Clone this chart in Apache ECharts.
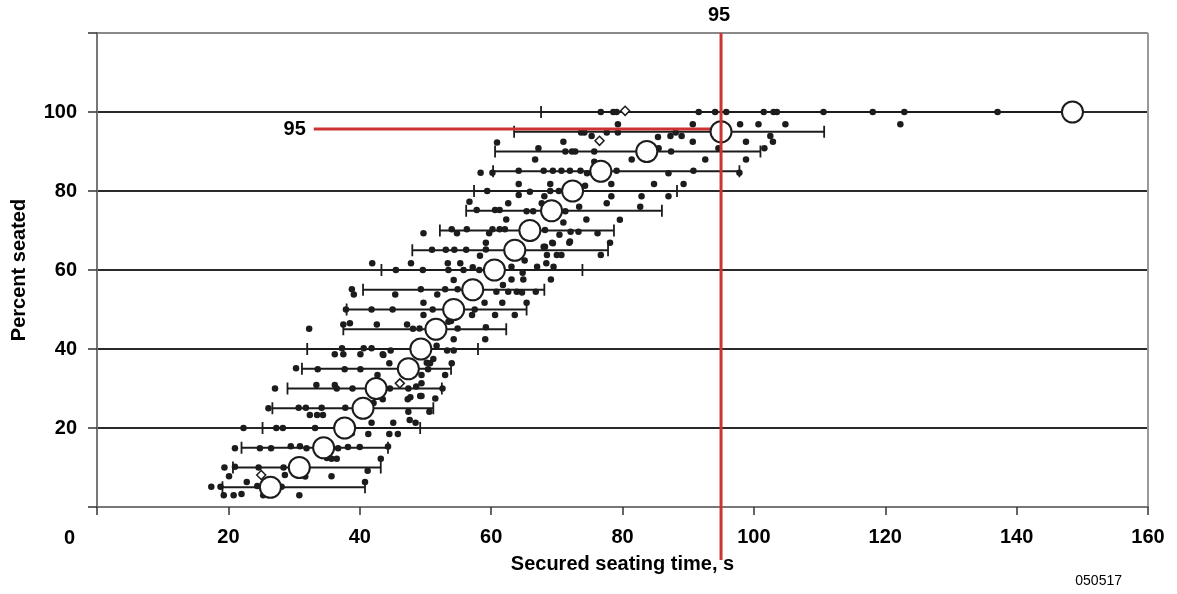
<!DOCTYPE html>
<html lang="en">
<head>
<meta charset="UTF-8">
<title>Secured seating time</title>
<script src="https://cdn.jsdelivr.net/npm/echarts@6/dist/echarts.min.js"></script>
<style>
  html, body { margin: 0; padding: 0; background: #fff; }
  #main { width: 1177px; height: 594px; }
</style>
</head>
<body>
<div id="main"></div>
<script>
// percent seated levels and the summary per level (seconds)
var levels = [5, 10, 15, 20, 25, 30, 35, 40, 45, 50, 55, 60, 65, 70, 75, 80, 85, 90, 95, 100];
var means = [26.4, 30.8, 34.5, 37.7, 40.5, 42.5, 47.4, 49.3, 51.6, 54.3, 57.2, 60.5, 63.6, 65.9, 69.2, 72.4, 76.7, 83.7, 95.0, 148.5];
var barLow = [19.1, 20.7, 22.0, 25.2, 26.7, 29.0, 31.2, 32.0, 37.5, 38.0, 40.5, 43.3, 48.0, 52.2, 56.2, 57.4, 60.3, 60.6, 63.5, 67.6];
var barHigh = [40.8, 43.2, 44.3, 49.2, 51.2, 52.5, 53.9, 58.0, 62.3, 65.4, 68.1, 73.9, 77.8, 78.7, 86.0, 88.3, 97.8, 101.0, 110.7, 148.5];

// individual trials [time, percent]
var trials = [
  [17.4,5.1],[18.8,5.1],[19.3,3.0],[20.8,3.0],[22.0,3.3],[22.8,6.3],[24.4,5.3],[25.3,3.0],[28.1,5.1],[30.8,3.0],[40.8,6.3],
  [19.4,10.0],[20.1,7.8],[21.0,10.2],[24.6,10.0],[28.4,10.0],[28.6,8.1],[31.7,7.7],[35.7,7.8],[41.2,9.2],[43.2,12.2],
  [21.0,14.9],[24.8,14.9],[26.5,14.9],[29.5,15.4],[30.9,15.4],[31.9,14.9],[35.0,12.4],[35.7,12.2],[36.5,12.2],[36.7,14.9],[38.2,15.2],[40.0,15.2],[44.3,15.3],
  [22.3,20.0],[27.3,20.0],[28.3,20.0],[33.2,20.0],[32.4,23.3],[33.5,23.3],[34.4,23.3],[38.8,18.7],[41.3,18.5],[41.8,21.3],[44.5,18.5],[45.1,21.3],[45.8,18.5],[47.6,22.0],[48.5,21.3],
  [26.1,25.0],[30.7,25.1],[31.8,25.1],[34.2,25.1],[37.8,25.1],[42.1,26.3],[43.5,27.3],[47.3,27.3],[47.4,24.1],[49.2,28.1],[50.6,24.1],[51.5,27.5],
  [27.1,30.0],[33.4,30.9],[36.2,30.9],[36.5,30.0],[38.9,30.0],[44.6,30.0],[47.4,30.0],[48.6,30.5],[49.4,31.3],[47.7,27.8],[49.4,28.1],[52.6,30.0],
  [30.3,35.1],[33.6,34.9],[37.7,34.9],[40.1,34.9],[42.7,33.4],[44.5,36.4],[49.4,33.4],[50.4,34.9],[50.7,36.4],[53.0,33.4],[54.0,36.4],
  [37.3,40.2],[36.2,38.7],[37.5,38.7],[40.1,38.7],[40.6,40.2],[41.8,40.2],[43.5,38.7],[44.7,39.6],[51.7,40.8],[51.2,37.5],[53.3,39.6],[54.3,39.6],[43.6,38.5],[50.2,36.5],
  [32.3,45.1],[37.5,46.2],[38.5,46.5],[42.6,46.2],[47.2,46.2],[48.1,45.1],[49.1,45.2],[53.5,46.9],[54.3,42.5],[53.9,47.1],[54.9,45.2],[59.2,45.5],[59.1,42.5],
  [37.9,50.0],[41.8,50.0],[45.0,50.0],[49.7,51.7],[49.7,48.6],[51.1,50.0],[57.1,48.6],[57.5,50.0],[59.0,51.7],[60.6,48.6],[61.7,51.7],[63.6,48.6],[65.4,51.7],
  [38.8,55.1],[39.1,53.8],[45.4,53.8],[49.3,55.1],[51.8,53.8],[53.0,55.1],[54.3,57.5],[54.9,55.1],[60.8,54.5],[61.8,56.2],[62.6,54.5],[63.9,54.5],[64.7,54.3],[63.1,57.6],[64.9,57.6],[66.8,54.5],
  [41.9,61.7],[45.5,60.0],[47.8,61.7],[49.6,60.0],[53.4,61.7],[53.5,60.0],[55.3,61.7],[55.8,60.0],[57.2,60.7],[58.2,60.0],[63.1,60.8],[64.8,59.3],[65.1,62.4],[67.0,60.8],[68.4,61.7],[69.5,60.8],[69.1,57.6],
  [51.0,65.1],[53.1,65.1],[54.4,65.1],[56.2,65.1],[58.3,63.6],[59.2,65.2],[59.2,66.9],[68.2,65.9],[69.4,66.8],[68.5,63.8],[70.0,63.8],[70.7,63.8],[76.7,63.8],[68.0,65.9],
  [49.7,69.3],[54.0,70.3],[54.8,69.3],[56.3,70.3],[59.7,69.3],[60.2,70.3],[61.3,70.3],[62.1,70.3],[62.3,72.8],[68.2,70.1],[70.4,68.9],[72.0,67.2],[76.2,69.3],[78.1,66.9],[79.6,72.7],[69.3,66.9],[71.9,66.9],[72.1,69.7],[73.3,69.7],
  [56.7,77.3],[57.8,75.2],[60.6,75.2],[61.3,75.2],[62.6,76.9],[65.4,74.9],[66.4,74.9],[67.7,76.9],[71.0,72.0],[71.3,74.9],[73.4,76.0],[74.5,72.8],[77.6,76.9],[82.7,76.0],
  [59.4,80.0],[64.2,81.8],[64.2,79.0],[65.9,79.8],[68.1,78.7],[69.0,81.8],[69.0,80.0],[70.3,80.0],[74.3,81.3],[78.3,81.8],[78.3,78.7],[82.9,78.7],[84.8,81.8],[87.0,78.7],[89.3,81.8],
  [58.4,84.6],[60.2,84.6],[64.2,85.1],[66.7,88.0],[68.0,85.1],[69.4,85.1],[70.7,85.1],[72.0,85.1],[73.6,85.1],[75.7,87.4],[74.6,84.5],[79.1,85.1],[81.4,88.0],[87.0,84.5],[90.8,85.1],[92.6,88.0],[97.8,84.6],[98.8,88.0],
  [60.9,92.3],[67.2,90.8],[71.0,92.5],[71.3,90.0],[72.3,90.0],[72.8,90.0],[75.7,90.0],[85.4,93.7],[87.3,93.9],[85.5,90.8],[87.4,90.0],[89.0,93.9],[90.7,92.5],[94.6,90.8],[98.8,92.5],[101.6,90.8],[102.5,93.9],[102.9,92.5],
  [73.7,94.8],[74.2,94.8],[75.3,93.9],[77.6,94.8],[79.3,96.9],[79.3,94.8],[88.1,94.8],[90.7,96.9],[97.9,96.9],[100.7,96.9],[104.8,96.9],[122.3,96.9],
  [76.7,100],[78.6,100],[79.1,100],[91.6,100],[94.1,100],[95.8,100],[101.5,100],[103.0,100],[103.5,100],[110.6,100],[118.1,100],[122.9,100],[137.1,100]
];
// the few hollow diamond markers
var diamonds = [[25.0,8.1],[46.1,31.3],[76.5,92.7],[80.4,100.3]];

// 95th percentile reference
var refTime = 95;
var refPercent = 95.7;
var refLabel = '95';
var refLineFrom = 33;

var FONT = '"Liberation Sans", Arial, Helvetica, sans-serif';
var INK = '#1c1c1c';
var RED = '#cc3333';

var myChart = echarts.init(document.getElementById('main'));

function renderBar(params, api) {
    var y = api.value(0);
    var lo = api.coord([api.value(1), y]);
    var hi = api.coord([api.value(2), y]);
    var cap = 6;
    var st = { stroke: INK, lineWidth: 1.8 };
    var kids = [
        { type: 'line', shape: { x1: lo[0], y1: lo[1], x2: hi[0], y2: hi[1] }, style: st },
        { type: 'line', shape: { x1: lo[0], y1: lo[1] - cap, x2: lo[0], y2: lo[1] + cap }, style: st }
    ];
    // the top row runs into its mean, no right cap there
    if (api.value(2) !== api.value(3)) {
        kids.push({ type: 'line', shape: { x1: hi[0], y1: hi[1] - cap, x2: hi[0], y2: hi[1] + cap }, style: st });
    }
    return { type: 'group', children: kids };
}

// horizontal red line with its label
function renderRefH(params, api) {
    var a = api.coord([api.value(2), api.value(1)]);
    var b = api.coord([api.value(0), api.value(1)]);
    return {
        type: 'group',
        children: [
            { type: 'line', shape: { x1: a[0], y1: a[1], x2: b[0], y2: b[1] }, style: { stroke: RED, lineWidth: 3 } },
            { type: 'text', x: a[0] - 8, y: a[1], style: { text: refLabel, fill: '#000', font: 'bold 20px ' + FONT, align: 'right', verticalAlign: 'middle' } }
        ]
    };
}

// vertical red line, running past the axis, with its label on top
function renderRefV(params, api) {
    var top = api.coord([api.value(0), 120]);
    var bot = api.coord([api.value(0), 0]);
    return {
        type: 'group',
        children: [
            { type: 'line', shape: { x1: top[0], y1: top[1], x2: bot[0], y2: bot[1] + 53 }, style: { stroke: RED, lineWidth: 3 } },
            { type: 'text', x: top[0] - 2, y: top[1] - 18, style: { text: refLabel, fill: '#000', font: 'bold 20px ' + FONT, align: 'center', verticalAlign: 'middle' } }
        ]
    };
}

var labelStyle = { fontFamily: FONT, fontWeight: 'bold', fontSize: 20, color: '#000' };

var option = {
    animation: false,
    backgroundColor: '#fff',
    grid: { left: 97, right: 29, top: 33, bottom: 87 },
    xAxis: {
        type: 'value', min: 0, max: 160, interval: 20,
        name: 'Secured seating time, s', nameLocation: 'middle', nameGap: 47,
        nameTextStyle: labelStyle,
        axisLine: { show: true, onZero: false, lineStyle: { color: '#777', width: 2 } },
        axisTick: { show: true, length: 8, lineStyle: { color: '#333', width: 1.5 } },
        axisLabel: Object.assign({ margin: 20, formatter: function (v) { return v === 0 ? '' : v; } }, labelStyle),
        splitLine: { show: true, lineStyle: { color: ['rgba(0,0,0,0)', 'rgba(0,0,0,0)', 'rgba(0,0,0,0)', 'rgba(0,0,0,0)', 'rgba(0,0,0,0)', 'rgba(0,0,0,0)', 'rgba(0,0,0,0)', 'rgba(0,0,0,0)', '#999'], width: 2 } }
    },
    yAxis: {
        type: 'value', min: 0, max: 120, interval: 20,
        name: 'Percent seated', nameLocation: 'middle', nameGap: 68,
        nameTextStyle: labelStyle,
        axisLine: { show: true, lineStyle: { color: '#777', width: 2 } },
        axisTick: { show: true, length: 9, lineStyle: { color: '#333', width: 1.5 } },
        axisLabel: Object.assign({ margin: 20, formatter: function (v) { return (v === 0 || v === 120) ? '' : v; } }, labelStyle),
        splitLine: { show: true, lineStyle: { color: ['rgba(0,0,0,0)', '#2a2a2a', '#2a2a2a', '#2a2a2a', '#2a2a2a', '#2a2a2a', '#8a8a8a'], width: 1.8 } }
    },
    graphic: [
        { type: 'text', left: 64, top: 528, style: { text: '0', fill: '#000', font: 'bold 20px ' + FONT } },
        { type: 'text', right: 55, top: 574, style: { text: '050517', fill: '#000', font: '14px ' + FONT } }
    ],
    series: [
        {
            type: 'custom', name: 'range', z: 2,
            renderItem: renderBar,
            encode: { x: [1, 2], y: 0 },
            data: levels.map(function (p, i) { return [p, barLow[i], barHigh[i], means[i]]; })
        },
        {
            type: 'scatter', name: 'trials', z: 3,
            symbol: 'circle', symbolSize: 6.5,
            itemStyle: { color: INK, opacity: 1 },
            data: trials
        },
        {
            type: 'scatter', name: 'diamonds', z: 3,
            symbol: 'diamond', symbolSize: 9,
            itemStyle: { color: '#fff', borderColor: INK, borderWidth: 1.5, opacity: 1 },
            data: diamonds
        },
        {
            type: 'custom', name: 'refH', z: 4,
            renderItem: renderRefH,
            encode: { x: [0, 2], y: 1 },
            data: [[refTime, refPercent, refLineFrom]]
        },
        {
            type: 'scatter', name: 'mean', z: 5,
            symbol: 'circle', symbolSize: 21,
            itemStyle: { color: '#fff', borderColor: INK, borderWidth: 2, opacity: 1 },
            data: levels.map(function (p, i) { return [means[i], p]; })
        },
        {
            type: 'custom', name: 'refV', z: 6,
            renderItem: renderRefV,
            encode: { x: 0, y: 1 },
            data: [[refTime, refPercent]]
        }
    ]
};

myChart.setOption(option);
</script>
</body>
</html>
